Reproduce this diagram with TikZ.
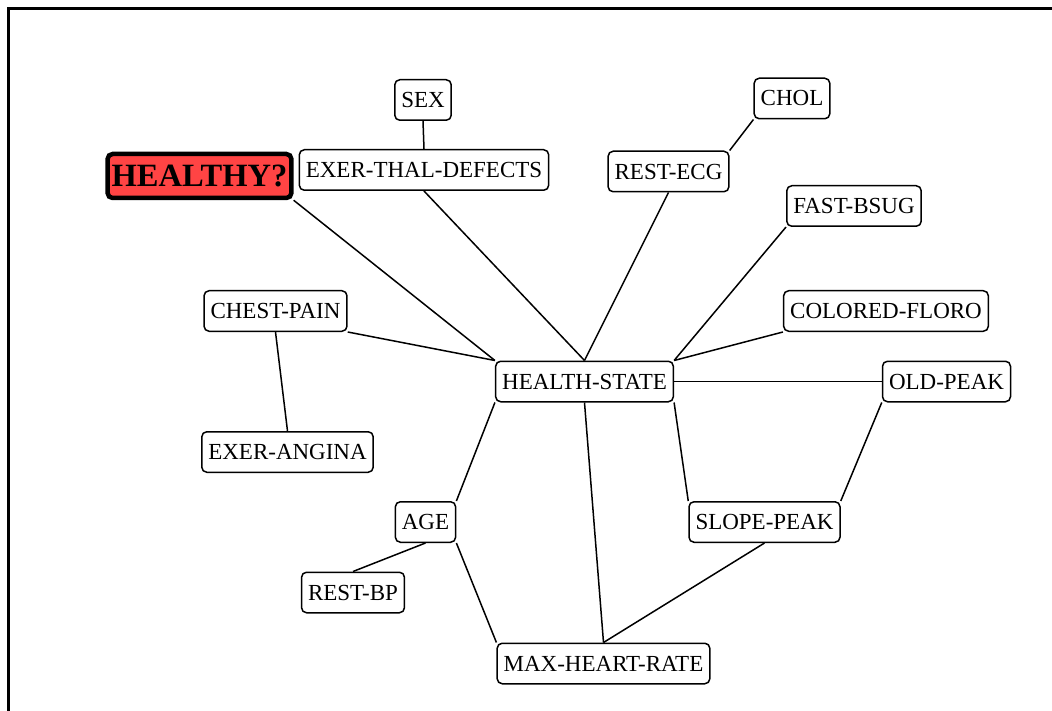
\documentclass[tikz,border=0pt]{standalone}
\usepackage{fontspec}
\setmainfont{Liberation Serif}
\begin{document}
\begin{tikzpicture}[x=1pt,y=-1pt,
  var/.style={draw, line width=1.5pt, rounded corners=5pt, fill=white,
    inner xsep=6.5pt, inner ysep=0pt, minimum height=40.5pt,
    font=\fontsize{23}{26}\selectfont},
  goal/.style={draw, line width=4.5pt, rounded corners=5pt, fill=healthred,
    inner xsep=4pt, inner ysep=0pt, minimum height=44pt,
    font=\fontsize{32.5}{36}\selectfont\bfseries},
  link/.style={line width=1.5pt}]
\definecolor{healthred}{RGB}{255,68,68}
\useasboundingbox (0,0) rectangle (1052,711);
\draw[line width=3pt] (8.5,711) -- (8.5,8.5) -- (1052,8.5);
% nodes
\node[var]  (sex)  at (423,100) {SEX};
\node[var]  (etd)  at (424,170) {EXER-THAL-DEFECTS};
\node[goal] (healthy) at (199.5,176) {HEALTHY?};
\node[var]  (recg) at (668.5,171.5) {REST-ECG};
\node[var]  (chol) at (792,98.5) {CHOL};
\node[var]  (fast) at (854,206) {FAST-BSUG};
\node[var]  (chest) at (275.5,311) {CHEST-PAIN};
\node[var]  (cf)   at (886,311) {COLORED-FLORO};
\node[var]  (hs)   at (584.5,381.5) {HEALTH-STATE};
\node[var]  (op)   at (946.5,381.5) {OLD-PEAK};
\node[var]  (ea)   at (287.5,452) {EXER-ANGINA};
\node[var]  (age)  at (425.5,522) {AGE};
\node[var]  (sp)   at (764.5,522) {SLOPE-PEAK};
\node[var]  (rbp)  at (353,592.5) {REST-BP};
\node[var]  (mhr)  at (603.5,663.5) {MAX-HEART-RATE};
% links
\draw[link] (sex.south) -- (etd.north);
\draw[link] (healthy.south east) -- (hs.north west);
\draw[link] (etd.south) -- (hs.north);
\draw[link] (recg.south) -- (hs.north);
\draw[link] (chol.south west) -- (recg.north east);
\draw[link] (fast.south west) -- (hs.north east);
\draw[link] (cf.south west) -- (hs.north east);
\draw[link] (chest.south east) -- (hs.north west);
\draw[link] (chest.south) -- (ea.north);
\draw[link] (hs.east) -- (op.west);
\draw[link] (op.south west) -- (sp.north east);
\draw[link] (hs.south east) -- (sp.north west);
\draw[link] (hs.south west) -- (age.north east);
\draw[link] (hs.south) -- (mhr.north);
\draw[link] (sp.south) -- (mhr.north);
\draw[link] (age.south) -- (rbp.north);
\draw[link] (age.south east) -- (mhr.north west);
\end{tikzpicture}
\end{document}
